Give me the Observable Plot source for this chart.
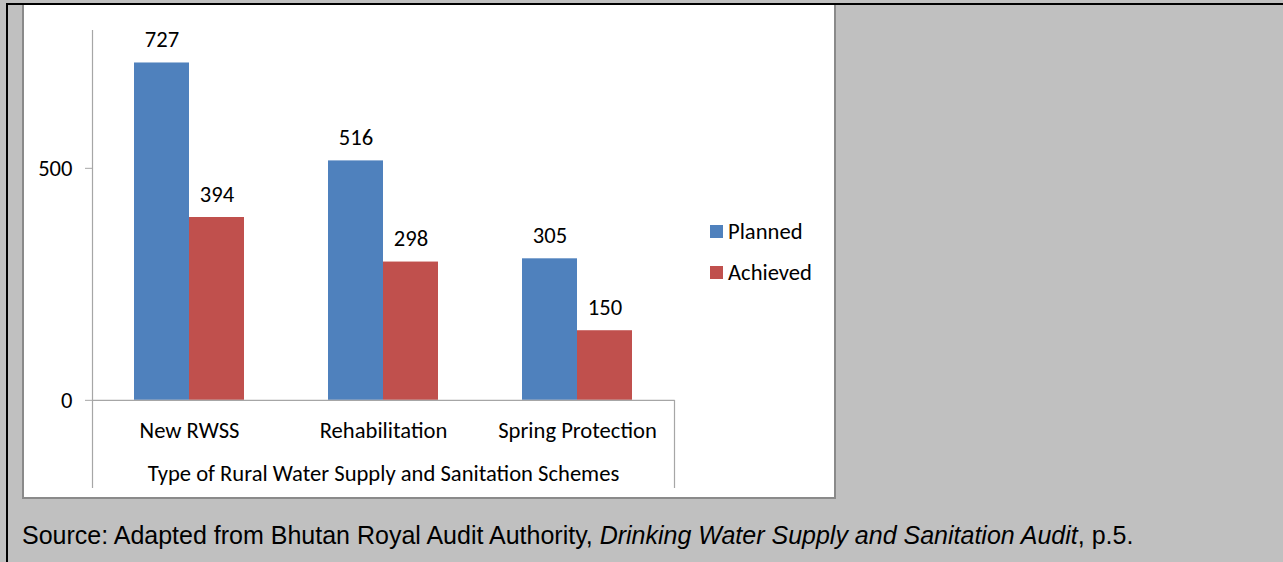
<!DOCTYPE html>
<html>
<head>
<meta charset="utf-8">
<script src="https://cdn.jsdelivr.net/npm/d3@7"></script>
<script src="https://cdn.jsdelivr.net/npm/@observablehq/plot@0.6"></script>
<style>
  html, body { margin: 0; padding: 0; }
  body { width: 1283px; height: 562px; background: #c0c0c0; overflow: hidden; position: relative; font-family: Carlito, Lato, sans-serif; }
  #outer { position: absolute; left: 6px; top: 3px; width: 1300px; height: 600px; border-top: 2px solid #000; border-left: 2px solid #000; }
  #box { position: absolute; left: 22px; top: 5px; width: 810px; height: 492px; background: #fff; border-left: 2px solid #8a8a8a; border-right: 2px solid #8a8a8a; border-bottom: 2px solid #8a8a8a; }
  #chart { position: absolute; left: 0; top: 0; }
  .legend { position: absolute; left: 710px; font-family: Carlito, Lato, sans-serif; font-size: 22.6px; color: #000; }
  .legend .item { position: absolute; left: 0; white-space: nowrap; display: flex; align-items: center; height: 24px; }
  .legend .sw { width: 13px; height: 13px; margin-right: 5px; }
  #source { position: absolute; left: 22px; top: 521px; font-family: "Liberation Sans", Arial, sans-serif; font-size: 25px; color: #000; white-space: nowrap; }
</style>
</head>
<body>
<div id="outer"></div>
<div id="box"></div>
<div id="chart"></div>
<div class="legend" id="legend"></div>
<div id="source">Source: Adapted from Bhutan Royal Audit Authority, <i>Drinking Water Supply and Sanitation Audit</i>, p.5.</div>
<script>
// ---- data ----
const categories = ["New RWSS", "Rehabilitation", "Spring Protection"];
const series = ["Planned", "Achieved"];
const planned = [727, 516, 305];
const achieved = [394, 298, 150];
const yTicks = [0, 500];
const xTitle = "Type of Rural Water Supply and Sanitation Schemes";
const colors = ["#4f81bd", "#c0504d"];

// ---- build ----
const rows = [];
categories.forEach((c, i) => {
  rows.push({category: c, series: "Planned", value: planned[i]});
  rows.push({category: c, series: "Achieved", value: achieved[i]});
});

const W = 1283, H = 500;
const mL = 92, mR = 609, mT = 30, mB = 12;
const bw = (W - mL - mR) / categories.length;
const barW = 55;
const font = "Carlito, Lato, sans-serif";
const fs = 22.6;
const axisGray = "#a6a6a6";
const yDomain = [-190, 797];

const P = rows.filter(d => d.series === "Planned");
const A = rows.filter(d => d.series === "Achieved");

const chart = Plot.plot({
  width: W, height: H,
  marginLeft: mL, marginRight: mR, marginTop: mT, marginBottom: mB,
  style: {background: "transparent", fontFamily: font, fontSize: fs + "px", overflow: "visible"},
  x: {type: "band", domain: categories, padding: 0, axis: null},
  y: {domain: yDomain, axis: null},
  marks: [
    Plot.barY(P, {x: "category", y1: 0, y2: "value", fill: colors[0], insetLeft: bw / 2 - barW, insetRight: bw / 2}),
    Plot.barY(A, {x: "category", y1: 0, y2: "value", fill: colors[1], insetLeft: bw / 2, insetRight: bw / 2 - barW}),
    Plot.text(P, {x: "category", y: "value", text: d => String(d.value), dx: -barW / 2, dy: -23, fill: "#000", fontSize: fs, fontFamily: font}),
    Plot.text(A, {x: "category", y: "value", text: d => String(d.value), dx: barW / 2, dy: -23, fill: "#000", fontSize: fs, fontFamily: font}),
    // axis lines
    Plot.ruleY([0], {stroke: axisGray, strokeWidth: 1.2}),
    Plot.ruleX([categories[0]], {x: d => d, y1: yDomain[0], y2: yDomain[1], dx: -bw / 2, stroke: axisGray, strokeWidth: 1.2}),
    Plot.ruleX([categories[categories.length - 1]], {x: d => d, y1: yDomain[0], y2: 0, dx: bw / 2, stroke: axisGray, strokeWidth: 1.2}),
    Plot.axisY({ticks: yTicks, label: null, tickSize: 7, tickPadding: 13, stroke: axisGray, fill: "#000", fontSize: fs, fontFamily: font, tickFormat: d => String(d)}),
    // category labels and axis title
    Plot.text(categories, {x: d => d, text: d => d, frameAnchor: "bottom", lineAnchor: "middle", dy: -58, fill: "#000", fontSize: fs, fontFamily: font}),
    Plot.text([xTitle], {text: d => d, frameAnchor: "bottom", lineAnchor: "middle", dy: -15, fill: "#000", fontSize: fs, fontFamily: font})
  ]
});
document.getElementById("chart").appendChild(chart);

// legend
const lg = document.getElementById("legend");
const legendTops = [219, 260];
series.forEach((s, i) => {
  const it = document.createElement("div");
  it.className = "item";
  it.style.top = legendTops[i] + "px";
  it.innerHTML = `<span class="sw" style="background:${colors[i]}"></span><span>${s}</span>`;
  lg.appendChild(it);
});
</script>
</body>
</html>
